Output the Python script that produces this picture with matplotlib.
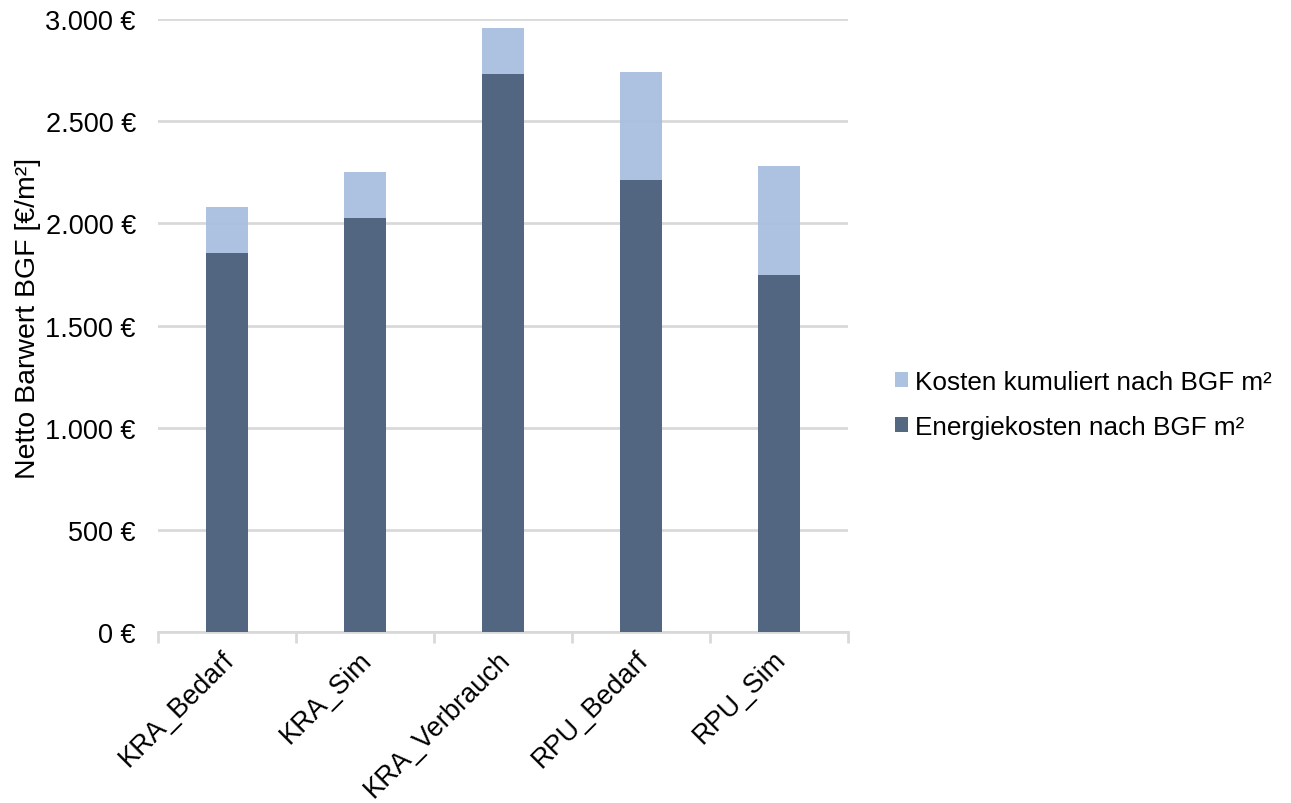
#!/usr/bin/env python3

import numpy as np
import matplotlib.pyplot as plt
import matplotlib.transforms as mtransforms
from matplotlib.ticker import FuncFormatter

categories = ['KRA_Bedarf', 'KRA_Sim', 'KRA_Verbrauch', 'RPU_Bedarf', 'RPU_Sim']
kosten_kumuliert = [2080, 2251, 2956, 2741, 2281]
energiekosten = [1855, 2026, 2731, 2212, 1747]


def euro(v, pos):
    return '{:,.0f} €'.format(v).replace(',', '.')


def main():
    plt.rcParams['font.family'] = ['Liberation Sans', 'DejaVu Sans']

    fig = plt.figure(figsize=(12.91, 8.04), dpi=100)
    ax = fig.add_axes([0.1224, 0.2127, 0.5345, 0.7623])

    x = np.arange(len(categories))
    ax.bar(x, kosten_kumuliert, width=0.31, color='#a9bfdf', alpha=0.95,
           label='Kosten kumuliert nach BGF m²', zorder=2)
    ax.bar(x, energiekosten, width=0.31, color='#4f637e', alpha=0.97,
           label='Energiekosten nach BGF m²', zorder=3)

    ax.set_xlim(-0.5, len(categories) - 0.5)
    ax.set_ylim(0, 3000)
    ax.set_yticks(np.arange(0, 3001, 500))
    ax.yaxis.set_major_formatter(FuncFormatter(euro))
    ax.grid(axis='y', color='#d9d9d9', linewidth=2, zorder=1)
    ax.set_axisbelow(True)

    for s in ['top', 'right', 'left']:
        ax.spines[s].set_visible(False)
    ax.spines['bottom'].set_color('#d9d9d9')
    ax.spines['bottom'].set_linewidth(2)

    # category boundaries get the tick marks, labels sit under the bars
    ax.set_xticks(np.arange(-0.5, len(categories)), minor=False)
    ax.set_xticklabels([])
    ax.tick_params(axis='x', which='major', length=8, width=2, color='#d9d9d9')
    ax.set_xticks(x, minor=True)
    ax.set_xticklabels(categories, minor=True, rotation=45, ha='right',
                       rotation_mode='anchor', fontsize=19.5)
    ax.tick_params(axis='x', which='minor', length=0, pad=10)
    shift = mtransforms.ScaledTranslation(-6 / 100, 0, fig.dpi_scale_trans)
    for lbl in ax.get_xticklabels(minor=True):
        lbl.set_transform(lbl.get_transform() + shift)

    ax.tick_params(axis='y', length=0, pad=16, labelsize=19.5)
    ax.set_ylabel('Netto Barwert BGF [€/m²]', fontsize=20.5)
    ax.yaxis.set_label_coords(-0.17, 0.514)

    ax.legend(loc='center left', bbox_to_anchor=(1.068, 0.371), frameon=False,
              fontsize=18.8, handlelength=0.5, handleheight=0.5,
              handletextpad=0.27, labelspacing=0.8, borderpad=0,
              borderaxespad=0)

    plt.savefig('out.png')


if __name__ == '__main__':
    main()
